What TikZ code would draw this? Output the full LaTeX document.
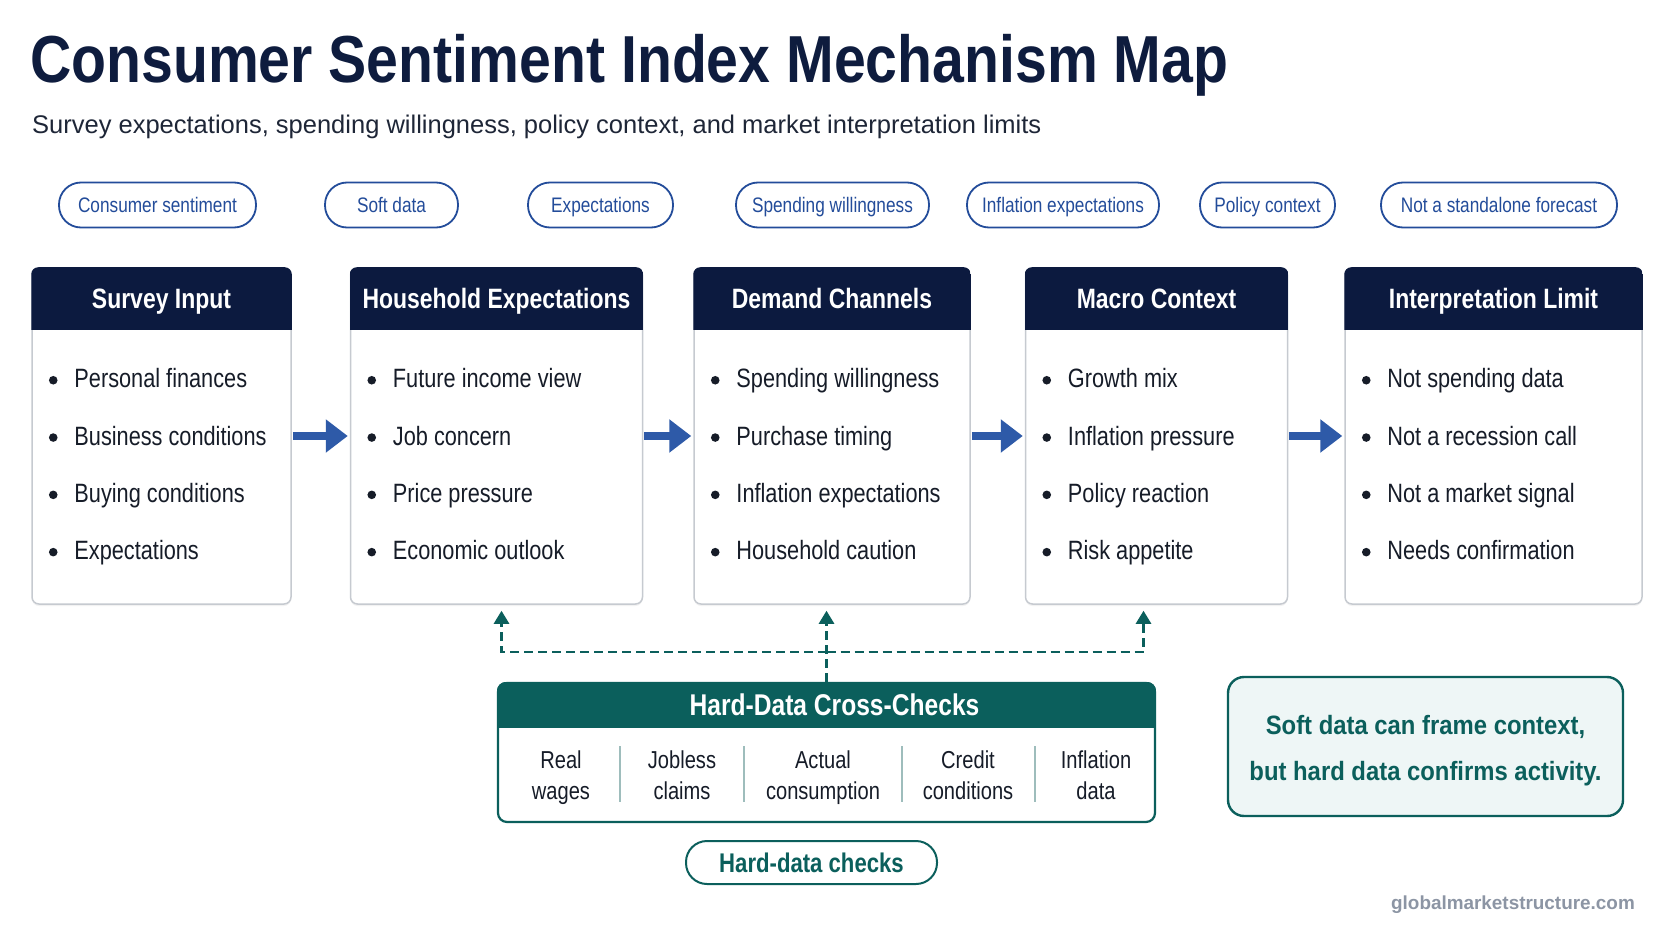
\documentclass[tikz,border=0pt]{standalone}
\usepackage{fontspec}
\setmainfont{Liberation Sans}
\newfontfamily\condf[FakeStretch=0.82]{Liberation Sans}
\newfontfamily\titlef[FakeStretch=0.86]{Liberation Sans}
\newfontfamily\notef[FakeStretch=0.9]{Liberation Sans}
\usetikzlibrary{arrows.meta,positioning,calc,shadows}
\definecolor{navyhead}{HTML}{0C1A3F}
\definecolor{titleink}{HTML}{0E1C3E}
\definecolor{subink}{HTML}{1E2637}
\definecolor{bodyink}{HTML}{161C28}
\definecolor{tagblue}{HTML}{234C9A}
\definecolor{flowblue}{HTML}{2E5AA8}
\definecolor{tealdark}{HTML}{0B5F5C}
\definecolor{tealfill}{HTML}{EEF6F6}
\definecolor{cardline}{HTML}{C6CAD0}
\definecolor{sepline}{HTML}{9EBDBC}
\definecolor{footgray}{HTML}{8C95A4}
\tikzset{
    card/.style={
        draw=cardline,
        line width=1.5pt,
        rounded corners=7pt,
        fill=white,
        minimum height=336pt,
        inner sep=0pt,
        drop shadow={shadow xshift=0pt, shadow yshift=-2pt, opacity=0.10}
    },
    headtext/.style={
        text=white,
        inner sep=0pt,
        font=\condf\bfseries\fontsize{28}{32}\selectfont
    },
    item/.style={
        anchor=base west,
        inner sep=0pt,
        text=bodyink,
        font=\condf\fontsize{26.5}{30}\selectfont
    },
    tag/.style={
        draw=tagblue,
        line width=1.8pt,
        rounded corners=22pt,
        minimum height=45pt,
        inner sep=0pt,
        text height=15pt,
        text depth=0pt,
        text=tagblue,
        font=\condf\fontsize{21}{24}\selectfont
    },
    flow/.style={-{Triangle[length=22pt,width=32pt]}, line width=8pt, flowblue, shorten <=1pt, shorten >=2pt},
    dashflow/.style={
        -{Triangle[length=13pt,width=15pt]},
        tealdark,
        line width=2.6pt,
        dash pattern=on 9pt off 5pt
    },
    hardbox/.style={
        draw=tealdark,
        line width=2.2pt,
        rounded corners=9pt,
        fill=white,
        minimum width=657pt,
        minimum height=139pt,
        inner sep=0pt
    },
    coltext/.style={
        align=center,
        inner sep=0pt,
        text depth=0pt,
        text=bodyink,
        font=\condf\fontsize{24.5}{31}\selectfont
    },
    notebox/.style={
        draw=tealdark,
        line width=2.4pt,
        rounded corners=16pt,
        fill=tealfill,
        minimum width=395pt,
        minimum height=139pt,
        align=center,
        text height=68pt,
        text depth=0pt,
        text=tealdark,
        font=\notef\bfseries\fontsize{26.5}{46}\selectfont
    },
    hardtag/.style={
        draw=tealdark,
        line width=2pt,
        rounded corners=21pt,
        minimum width=251pt,
        minimum height=43pt,
        text height=19pt,
        text depth=0pt,
        text=tealdark,
        font=\condf\bfseries\fontsize{27}{30}\selectfont
    }
}
\newcommand{\cardhead}[2]{%
    \begin{scope}
        \clip[rounded corners=7pt] (#1.north west) rectangle (#1.south east);
        \fill[navyhead] (#1.north west) rectangle ($(#1.north east)+(0,63)$);
    \end{scope}
    \node[headtext, anchor=base] (#1-head) at ($(#1.north)+(0,41)$) {#2};
}
\newcommand{\cardlist}[2]{%
    \foreach \txt [count=\k] in {#2} {
        \fill[bodyink] ($(#1.north west)+(22,{113+(\k-1)*57.3})$) circle (4.3pt);
        \node[item] (#1-item\k) at ($(#1.north west)+(43,{120.5+(\k-1)*57.3})$) {\txt};
    }
}

\begin{document}
\begin{tikzpicture}[x=1pt, y=-1pt]
        \useasboundingbox[fill=white] (0,0) rectangle (1672,941);

        % title
        \node[anchor=base west, inner sep=0pt, text=titleink, font=\titlef\bfseries\fontsize{66.5}{70}\selectfont] (title) at (30,83) {Consumer Sentiment Index Mechanism Map};
        \node[anchor=base west, inner sep=0pt, text=subink, font=\fontsize{25.5}{30}\selectfont] (subtitle) at (32,134) {Survey expectations, spending willingness, policy context, and market interpretation limits};

        % tags
        \node[tag, minimum width=197pt] (tagsent) at (157.5,205) {Consumer sentiment};
        \node[tag, minimum width=133pt] (tagsoft) at (391.5,205) {Soft data};
        \node[tag, minimum width=145pt] (tagexp) at (600.5,205) {Expectations};
        \node[tag, minimum width=193pt] (tagspend) at (832.5,205) {Spending willingness};
        \node[tag, minimum width=192pt] (taginfl) at (1063,205) {Inflation expectations};
        \node[tag, minimum width=135pt] (tagpolicy) at (1267.5,205) {Policy context};
        \node[tag, minimum width=236pt] (tagnot) at (1499,205) {Not a standalone forecast};

        % cards
        \node[card, minimum width=259pt] (survey) at (161.5,436) {};
        \node[card, minimum width=292pt, right=58pt of survey] (household) {};
        \node[card, minimum width=276pt, right=50pt of household] (demand) {};
        \node[card, minimum width=262pt, right=54pt of demand] (macro) {};
        \node[card, minimum width=297pt, right=56pt of macro] (limit) {};

        \cardhead{survey}{Survey Input}
        \cardhead{household}{Household Expectations}
        \cardhead{demand}{Demand Channels}
        \cardhead{macro}{Macro Context}
        \cardhead{limit}{Interpretation Limit}

        \cardlist{survey}{Personal finances, Business conditions, Buying conditions, Expectations}
        \cardlist{household}{Future income view, Job concern, Price pressure, Economic outlook}
        \cardlist{demand}{Spending willingness, Purchase timing, Inflation expectations, Household caution}
        \cardlist{macro}{Growth mix, Inflation pressure, Policy reaction, Risk appetite}
        \cardlist{limit}{Not spending data, Not a recession call, Not a market signal, Needs confirmation}

        \draw[flow] (survey) -- (household);
        \draw[flow] (household) -- (demand);
        \draw[flow] (demand) -- (macro);
        \draw[flow] (macro) -- (limit);

        % hard data box
        \node[hardbox] (hard) at (826.5,752.5) {};
        \begin{scope}
            \clip[rounded corners=9pt] (hard.north west) rectangle (hard.south east);
            \fill[tealdark] (hard.north west) rectangle ($(hard.north east)+(0,46)$);
        \end{scope}
        \node[headtext, anchor=base, font=\condf\bfseries\fontsize{30}{32}\selectfont] (hard-head) at ($(hard.north)+(8,34)$) {Hard-Data Cross-Checks};

        \node[coltext] (colwages) at (561,775) {Real\\wages};
        \node[coltext] (colclaims) at (682,775) {Jobless\\claims};
        \node[coltext] (colcons) at (823,775) {Actual\\consumption};
        \node[coltext] (colcredit) at (968,775) {Credit\\conditions};
        \node[coltext] (colinfl) at (1096,775) {Inflation\\data};
        \draw[sepline, line width=1.6pt] (620,746) -- (620,802);
        \draw[sepline, line width=1.6pt] (744,746) -- (744,802);
        \draw[sepline, line width=1.6pt] (902,746) -- (902,802);
        \draw[sepline, line width=1.6pt] (1035,746) -- (1035,802);

        \coordinate (split) at ($(hard.north)+(0,-30)$);
        \draw[dashflow, shorten >=6pt] (hard.north) -- (hard.north |- demand.south);
        \draw[dashflow, shorten >=6pt] (split) -| ([xshift=5pt]household.south);
        \draw[dashflow, shorten >=6pt] (split) -| ([xshift=-13pt]macro.south);

        \node[hardtag] (hardtag) at (811.5,862.5) {Hard-data checks};

        \node[notebox] (note) at (1425.5,746.5) {Soft data can frame context,\\but hard data confirms activity.};

        \node[anchor=base east, inner sep=0pt, text=footgray, font=\bfseries\fontsize{18.9}{22}\selectfont] (footer) at (1635,909) {globalmarketstructure.com};
    \end{tikzpicture}
\end{document}
